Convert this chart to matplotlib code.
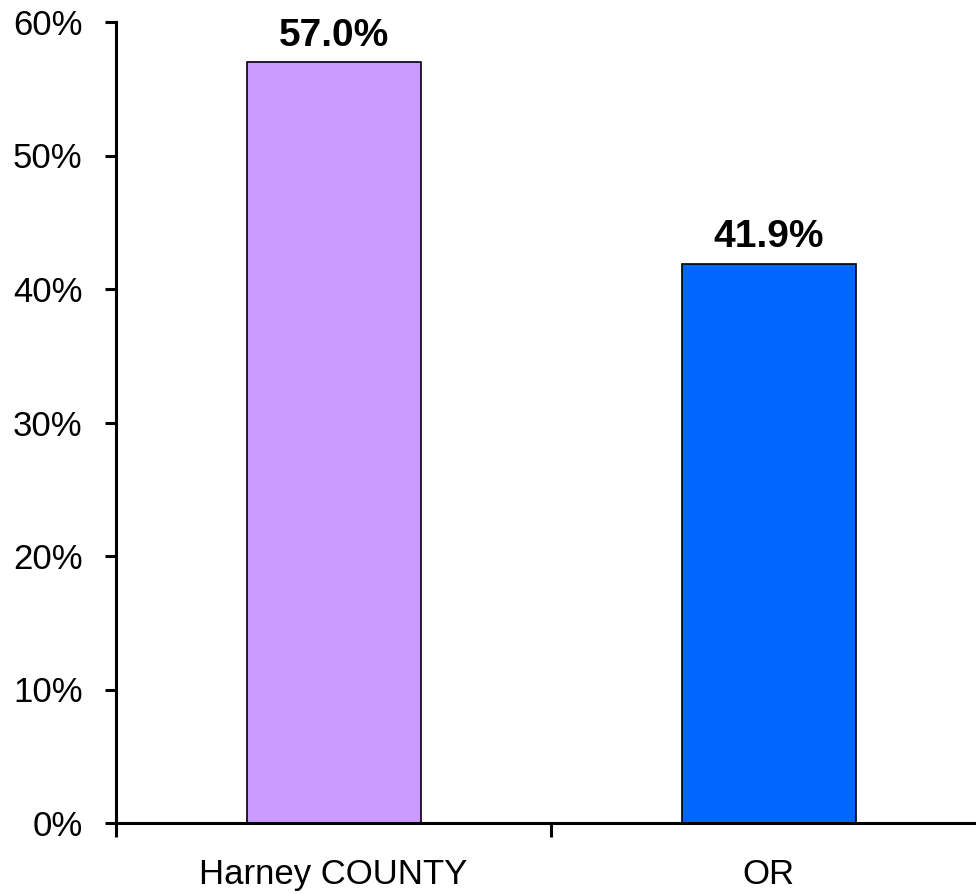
import matplotlib
matplotlib.use('Agg')
import matplotlib.pyplot as plt
from matplotlib.ticker import FuncFormatter, FixedLocator

# data
categories = ['Harney COUNTY', 'OR']
values = [57.0, 41.9]
colors = ['#CC99FF', '#0066FF']

plt.rcParams['font.family'] = ['Liberation Sans', 'DejaVu Sans']

fig = plt.figure(figsize=(9.76, 8.94), dpi=100)
# axes runs past the right edge of the figure, like the original
ax = fig.add_axes([116/976, 1 - 823/894, 870/976, 801/894])

x = range(len(categories))
bars = ax.bar(x, values, width=0.4, color=colors, edgecolor='black', linewidth=1.2)

for b, v in zip(bars, values):
    ax.annotate('%.1f%%' % v, (b.get_x() + b.get_width()/2, v),
                xytext=(0, 6), textcoords='offset points',
                ha='center', va='bottom', fontsize=28, fontweight='bold')

ax.set_xlim(-0.5, 1.5)
ax.set_ylim(0, 60)
ax.set_yticks(range(0, 61, 10))
ax.yaxis.set_major_formatter(FuncFormatter(lambda v, p: '%d%%' % v))

ax.set_xticks(list(x))
ax.set_xticklabels(categories)
ax.xaxis.set_minor_locator(FixedLocator([-0.5, 0.5, 1.5]))
ax.tick_params(axis='x', which='major', length=0, pad=25, labelsize=25)
ax.tick_params(axis='x', which='minor', length=10, width=2.2, direction='out')
ax.tick_params(axis='y', length=8, width=2.2, pad=16, labelsize=25)

for s in ['top', 'right']:
    ax.spines[s].set_visible(False)
for s in ['left', 'bottom']:
    ax.spines[s].set_linewidth(2.2)

fig.savefig('out.png', dpi=100)
